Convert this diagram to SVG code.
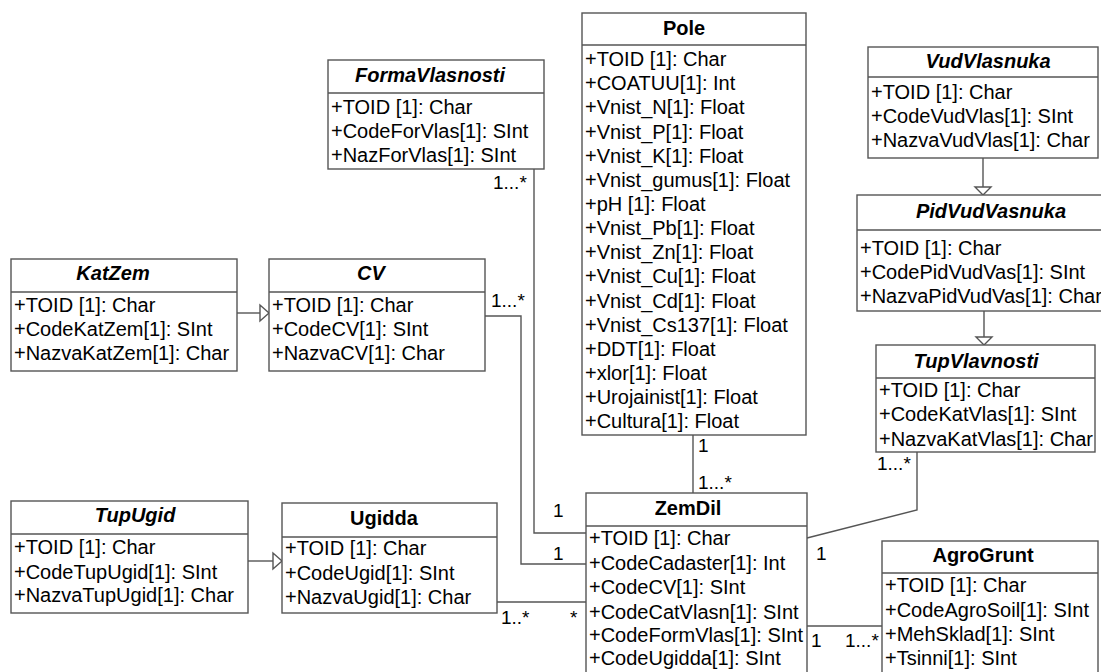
<svg xmlns="http://www.w3.org/2000/svg" width="1101" height="672" viewBox="0 0 1101 672">
<style>
text{font-family:"Liberation Sans",Arial,sans-serif;font-size:20px;fill:#000}
.t{font-weight:bold;text-anchor:middle}
.i{font-style:italic}
.l{font-size:19px}
rect{fill:#fff;stroke:#555;stroke-width:1.4}
.h{stroke:#555;stroke-width:1.4}
.c{fill:none;stroke:#555;stroke-width:1.4}
.tri{fill:#fff;stroke:#555;stroke-width:1.4}
</style>
<rect x="0" y="0" width="1101" height="672" style="stroke:none"/>
<g id="connectors">
<polyline class="c" points="534,169 534,533 586,533"/>
<polyline class="c" points="485,316 521,316 521,564 586,564"/>
<line class="c" x1="497" y1="602" x2="586" y2="602"/>
<line class="c" x1="693" y1="435" x2="693" y2="493"/>
<polyline class="c" points="917,452 917,510 807,538"/>
<line class="c" x1="807" y1="626" x2="882" y2="626"/>
<line class="c" x1="237" y1="313" x2="260" y2="313"/>
<polygon class="tri" points="260,305 260,321 269,313"/>
<line class="c" x1="248" y1="561" x2="273" y2="561"/>
<polygon class="tri" points="273,553 273,569 282,561"/>
<line class="c" x1="983" y1="158" x2="983" y2="187"/>
<polygon class="tri" points="975,187 991,187 983,195"/>
<line class="c" x1="984" y1="311" x2="984" y2="337"/>
<polygon class="tri" points="976,337 992,337 984,345"/>
<text class="l" x="493" y="189">1...*</text>
<text class="l" x="553" y="517">1</text>
<text class="l" x="491" y="307">1...*</text>
<text class="l" x="553" y="560">1</text>
<text class="l" x="501" y="624">1..*</text>
<text class="l" x="570" y="624">*</text>
<text class="l" x="698" y="452">1</text>
<text class="l" x="698" y="489">1...*</text>
<text class="l" x="877" y="470">1...*</text>
<text class="l" x="816" y="560">1</text>
<text class="l" x="811" y="647">1</text>
<text class="l" x="845" y="647">1...*</text>
</g>
<g id="FormaVlasnosti">
<rect x="328" y="60" width="216" height="109"/>
<line class="h" x1="328" y1="93" x2="544" y2="93"/>
<text class="t i" x="430" y="82">FormaVlasnosti</text>
<text x="331" y="114">+TOID [1]: Char</text>
<text x="331" y="138">+CodeForVlas[1]: SInt</text>
<text x="331" y="162">+NazForVlas[1]: SInt</text>
</g>
<g id="Pole">
<rect x="582" y="13" width="224" height="422"/>
<line class="h" x1="582" y1="45" x2="806" y2="45"/>
<text class="t" x="684" y="35">Pole</text>
<text x="585" y="66">+TOID [1]: Char</text>
<text x="585" y="90">+COATUU[1]: Int</text>
<text x="585" y="114">+Vnist_N[1]: Float</text>
<text x="585" y="139">+Vnist_P[1]: Float</text>
<text x="585" y="163">+Vnist_K[1]: Float</text>
<text x="585" y="187">+Vnist_gumus[1]: Float</text>
<text x="585" y="211">+pH [1]: Float</text>
<text x="585" y="235">+Vnist_Pb[1]: Float</text>
<text x="585" y="259">+Vnist_Zn[1]: Float</text>
<text x="585" y="283">+Vnist_Cu[1]: Float</text>
<text x="585" y="308">+Vnist_Cd[1]: Float</text>
<text x="585" y="332">+Vnist_Cs137[1]: Float</text>
<text x="585" y="356">+DDT[1]: Float</text>
<text x="585" y="380">+xlor[1]: Float</text>
<text x="585" y="404">+Urojainist[1]: Float</text>
<text x="585" y="428">+Cultura[1]: Float</text>
</g>
<g id="VudVlasnuka">
<rect x="868" y="47" width="230" height="111"/>
<line class="h" x1="868" y1="77" x2="1098" y2="77"/>
<text class="t i" x="988" y="68">VudVlasnuka</text>
<text x="871" y="99">+TOID [1]: Char</text>
<text x="871" y="123">+CodeVudVlas[1]: SInt</text>
<text x="871" y="147">+NazvaVudVlas[1]: Char</text>
</g>
<g id="PidVudVasnuka">
<rect x="857" y="195" width="260" height="116"/>
<line class="h" x1="857" y1="230" x2="1117" y2="230"/>
<text class="t i" x="991" y="218">PidVudVasnuka</text>
<text x="860" y="255">+TOID [1]: Char</text>
<text x="860" y="279">+CodePidVudVas[1]: SInt</text>
<text x="860" y="303">+NazvaPidVudVas[1]: Char</text>
</g>
<g id="TupVlavnosti">
<rect x="876" y="345" width="219" height="107"/>
<line class="h" x1="876" y1="378" x2="1095" y2="378"/>
<text class="t i" x="976" y="368">TupVlavnosti</text>
<text x="879" y="397">+TOID [1]: Char</text>
<text x="879" y="421">+CodeKatVlas[1]: SInt</text>
<text x="879" y="446">+NazvaKatVlas[1]: Char</text>
</g>
<g id="KatZem">
<rect x="11" y="259" width="226" height="112"/>
<line class="h" x1="11" y1="292" x2="237" y2="292"/>
<text class="t i" x="113" y="280">KatZem</text>
<text x="14" y="312">+TOID [1]: Char</text>
<text x="14" y="336">+CodeKatZem[1]: SInt</text>
<text x="14" y="360">+NazvaKatZem[1]: Char</text>
</g>
<g id="CV">
<rect x="269" y="259" width="216" height="112"/>
<line class="h" x1="269" y1="292" x2="485" y2="292"/>
<text class="t i" x="371" y="280">CV</text>
<text x="272" y="312">+TOID [1]: Char</text>
<text x="272" y="336">+CodeCV[1]: SInt</text>
<text x="272" y="360">+NazvaCV[1]: Char</text>
</g>
<g id="TupUgid">
<rect x="11" y="501" width="237" height="112"/>
<line class="h" x1="11" y1="534" x2="248" y2="534"/>
<text class="t i" x="135" y="522">TupUgid</text>
<text x="14" y="554">+TOID [1]: Char</text>
<text x="14" y="579">+CodeTupUgid[1]: SInt</text>
<text x="14" y="602">+NazvaTupUgid[1]: Char</text>
</g>
<g id="Ugidda">
<rect x="282" y="503" width="215" height="110"/>
<line class="h" x1="282" y1="537" x2="497" y2="537"/>
<text class="t" x="384" y="525">Ugidda</text>
<text x="285" y="555">+TOID [1]: Char</text>
<text x="285" y="580">+CodeUgid[1]: SInt</text>
<text x="285" y="604">+NazvaUgid[1]: Char</text>
</g>
<g id="ZemDil">
<rect x="586" y="493" width="221" height="200"/>
<line class="h" x1="586" y1="526" x2="807" y2="526"/>
<text class="t" x="688" y="515">ZemDil</text>
<text x="589" y="545">+TOID [1]: Char</text>
<text x="589" y="570">+CodeCadaster[1]: Int</text>
<text x="589" y="594">+CodeCV[1]: SInt</text>
<text x="589" y="619">+CodeCatVlasn[1]: SInt</text>
<text x="589" y="642">+CodeFormVlas[1]: SInt</text>
<text x="589" y="665">+CodeUgidda[1]: SInt</text>
</g>
<g id="AgroGrunt">
<rect x="882" y="541" width="216" height="150"/>
<line class="h" x1="882" y1="573" x2="1098" y2="573"/>
<text class="t" x="983" y="562">AgroGrunt</text>
<text x="885" y="592">+TOID [1]: Char</text>
<text x="885" y="617">+CodeAgroSoil[1]: SInt</text>
<text x="885" y="641">+MehSklad[1]: SInt</text>
<text x="885" y="665">+Tsinni[1]: SInt</text>
</g>
</svg>
